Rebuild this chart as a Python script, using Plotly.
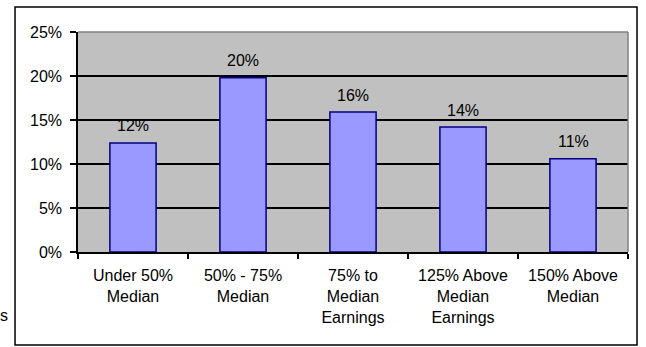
import plotly.graph_objects as go

# Share of workers by earnings band relative to the median
categories = [
    "Under 50%<br>Median",
    "50% - 75%<br>Median",
    "75% to<br>Median<br>Earnings",
    "125% Above<br>Median<br>Earnings",
    "150% Above<br>Median",
]
shares = [0.124, 0.198, 0.159, 0.142, 0.106]
y_ticks = [0, 0.05, 0.10, 0.15, 0.20, 0.25]

FONT = "Arial, Liberation Sans, sans-serif"

fig = go.Figure(
    go.Bar(
        x=categories,
        y=shares,
        marker=dict(color="#9999FF", line=dict(color="#000080", width=1.5)),
        hoverinfo="skip",
    )
)

# value labels above each bar, formatted from the same values
for cat, val in zip(categories, shares):
    fig.add_annotation(
        x=cat, y=val, xref="x", yref="y",
        text=f"{val:.0%}", showarrow=False,
        yanchor="middle", yshift=17,
        font=dict(family=FONT, size=16, color="black"),
    )

# plot-area border on the top and right edges
fig.add_shape(type="line", xref="paper", yref="paper", x0=0, x1=1, y0=1, y1=1,
              line=dict(color="#808080", width=1.5), layer="above")
fig.add_shape(type="line", xref="paper", yref="paper", x0=1, x1=1, y0=0, y1=1,
              line=dict(color="#808080", width=1.5), layer="above")

# outer chart frame
fig.add_shape(type="rect", xref="paper", yref="paper",
              x0=-0.1145, x1=1.0164, y0=-0.4227, y1=1.1136,
              line=dict(color="black", width=1.5), layer="below")

# clipped text fragment left of the frame
fig.add_annotation(x=-0.135, y=-0.29, xref="paper", yref="paper", text="s",
                   showarrow=False, xanchor="center", yanchor="middle",
                   font=dict(family=FONT, size=16, color="black"))

fig.update_layout(
    width=646, height=347,
    margin=dict(l=78, r=18, t=32, b=95),
    paper_bgcolor="white",
    plot_bgcolor="#C0C0C0",
    bargap=0.58,
    showlegend=False,
    font=dict(family=FONT, size=16, color="black"),
    xaxis=dict(
        showline=True, linecolor="black", linewidth=1.5,
        ticks="outside", tickson="boundaries", ticklen=5, tickcolor="black", tickwidth=1.5,
        showgrid=False, tickfont=dict(size=16, color="black"),
        ticklabelstandoff=8,
    ),
    yaxis=dict(
        range=[0, 0.25], tickvals=y_ticks, tickformat=".0%",
        showline=True, linecolor="black", linewidth=1.5,
        ticks="outside", ticklen=6, tickcolor="black", tickwidth=1.5,
        showgrid=True, gridcolor="black", gridwidth=1.5,
        zeroline=False, tickfont=dict(size=16, color="black"),
        ticklabelstandoff=5,
    ),
)

fig.write_html("out.html")
